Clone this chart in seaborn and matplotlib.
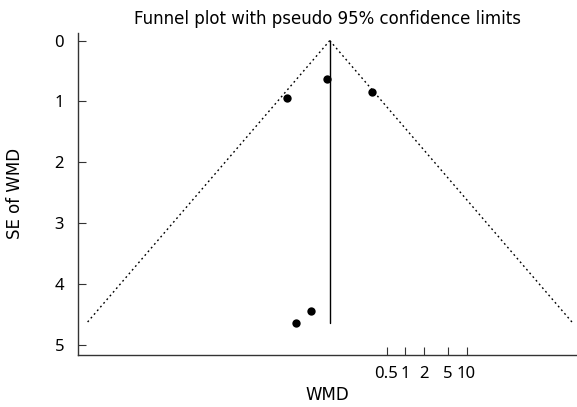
import numpy as np
import pandas as pd
import matplotlib
matplotlib.use("Agg")
import matplotlib.pyplot as plt
import seaborn as sns

# Study estimates (log scale WMD) and their standard errors
study_wmd = [-4.41, -2.93, -1.25, -3.52, -4.08]
study_se = [0.94, 0.63, 0.85, 4.44, 4.64]

pooled_wmd = -2.82
se_max = 4.64
z95 = 1.96

tick_values = [0.5, 1, 2, 5, 10]
tick_labels = ["0.5", "1", "2", "5", "10"]
y_ticks = [0, 1, 2, 3, 4, 5]

title = "Funnel plot with pseudo 95% confidence limits"
xlabel = "WMD"
ylabel = "SE of WMD"

sns.set_style("white")
plt.rcParams["font.family"] = ["DejaVu Sans"]
plt.rcParams["text.color"] = "black"
plt.rcParams["axes.labelcolor"] = "black"

fig = plt.figure(figsize=(5.77, 4.07), dpi=100)
ax = fig.add_axes([0.1352, 0.1278, 0.8648, 0.7919])

points = pd.DataFrame({"wmd": study_wmd, "se": study_se})
left = pd.DataFrame({"x": [pooled_wmd, pooled_wmd - z95 * se_max], "y": [0, se_max]})
right = pd.DataFrame({"x": [pooled_wmd, pooled_wmd + z95 * se_max], "y": [0, se_max]})
center = pd.DataFrame({"x": [pooled_wmd, pooled_wmd], "y": [0, se_max]})

dot = (0, (1.3, 2.2))
sns.lineplot(data=left, x="x", y="y", ax=ax, color="black", lw=1.0, linestyle=dot,
             sort=False, estimator=None)
sns.lineplot(data=right, x="x", y="y", ax=ax, color="black", lw=1.0, linestyle=dot,
             sort=False, estimator=None)
sns.lineplot(data=center, x="x", y="y", ax=ax, color="black", lw=1.0,
             sort=False, estimator=None)
sns.scatterplot(data=points, x="wmd", y="se", ax=ax, color="black", s=36,
                edgecolor="black", linewidth=0, zorder=5)

ax.set_xlim(-12.25, 6.44)
ax.set_ylim(5.17, -0.13)
ax.set_xticks(np.log(tick_values))
ax.set_xticklabels(tick_labels)
ax.set_yticks(y_ticks)

for s in ["top", "right"]:
    ax.spines[s].set_visible(False)
for s in ["left", "bottom"]:
    ax.spines[s].set_color("#333333")
    ax.spines[s].set_linewidth(1.0)

ax.tick_params(axis="both", which="major", bottom=True, left=True, direction="in",
               length=6, width=0.8, color="#333333", labelsize=12, labelcolor="black")
ax.tick_params(axis="y", pad=10)
ax.tick_params(axis="x", pad=8)
for lab in ax.get_xticklabels() + ax.get_yticklabels():
    lab.set_fontfamily(["Noto Sans", "DejaVu Sans"])

ax.set_title(title, fontsize=12, pad=6, color="black")
ax.set_xlabel(xlabel, fontsize=12, labelpad=3)
ax.set_ylabel(ylabel, fontsize=12, labelpad=22)

fig.savefig("out.png", dpi=100)
